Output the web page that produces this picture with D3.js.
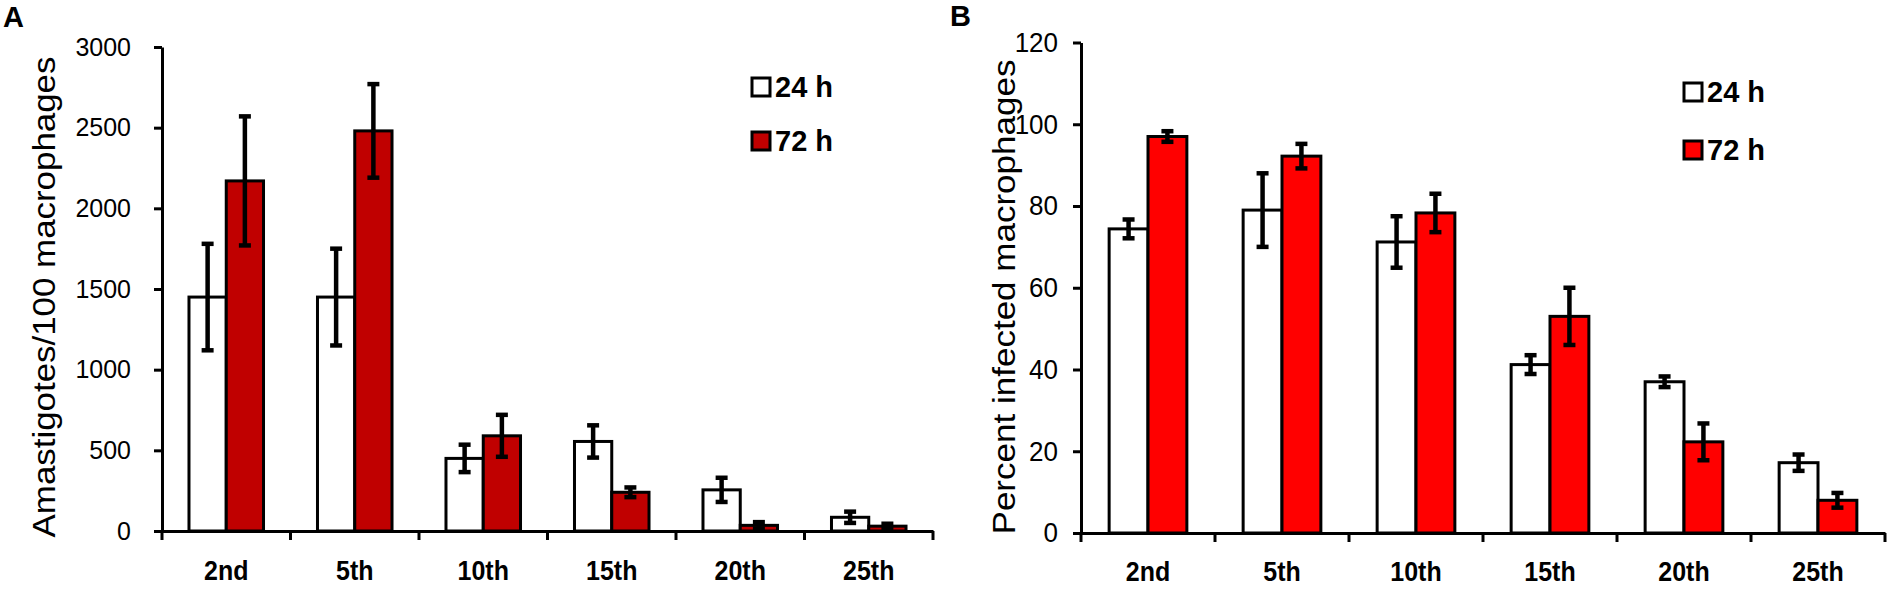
<!DOCTYPE html>
<html><head><meta charset="utf-8">
<script src="https://cdn.jsdelivr.net/npm/d3@7/dist/d3.min.js"></script>
<style>
body{margin:0;background:#fff}
svg{display:block}
text{font-family:"Liberation Sans",Arial,Helvetica,sans-serif;fill:#000}
</style>
</head><body>
<svg id="chart" width="1900" height="590"></svg>
<script>
// ---------- data ----------
const categories = ["2nd", "5th", "10th", "15th", "20th", "25th"];
const seriesNames = ["24 h", "72 h"];

// Panel A: Amastigotes/100 macrophages
const amast24    = [1450, 1450, 450, 555, 255, 85];
const amast24Err = [330, 300, 85, 100, 75, 35];
const amast72    = [2170, 2480, 590, 240, 35, 30];
const amast72Err = [400, 290, 130, 30, 20, 15];
const ticksA = [0, 500, 1000, 1500, 2000, 2500, 3000];

// Panel B: Percent infected macrophages
const pct24    = [74.4, 79, 71.2, 41.2, 37, 17.2];
const pct24Err = [2.3, 9, 6.3, 2.3, 1.3, 2];
const pct72    = [97, 92.2, 78.3, 53, 22.3, 8];
const pct72Err = [1.3, 3, 4.7, 7, 4.5, 1.8];
const ticksB = [0, 20, 40, 60, 80, 100, 120];

// ---------- drawing ----------
const svg = d3.select("#chart");
svg.append("rect").attr("width", 1900).attr("height", 590).attr("fill", "#fff");

function drawPanel(p) {
  const g = svg.append("g");
  const x = d3.scaleBand().domain(categories).range([p.left, p.right]);
  const inner = d3.scaleBand().domain(seriesNames)
    .range([x.bandwidth() * 0.21, x.bandwidth() * 0.79]);
  const y = d3.scaleLinear().domain([0, d3.max(p.ticks)]).range([p.bottom, p.top]);

  const series = [
    {name: seriesNames[0], vals: p.v24, errs: p.e24, fill: "#ffffff"},
    {name: seriesNames[1], vals: p.v72, errs: p.e72, fill: p.red}
  ];

  const groups = g.selectAll("g.cat").data(categories).join("g")
    .attr("class", "cat")
    .attr("transform", c => `translate(${x(c)},0)`);

  const items = (c, i) => series.map(s => ({s, v: s.vals[i], e: s.errs[i]}));

  groups.selectAll("rect.bar").data(items).join("rect")
    .attr("class", "bar")
    .attr("x", d => inner(d.s.name))
    .attr("width", inner.bandwidth())
    .attr("y", d => y(d.v))
    .attr("height", d => y(0) - y(d.v))
    .attr("fill", d => d.s.fill)
    .attr("stroke", "#000")
    .attr("stroke-width", 3);

  const cx = d => inner(d.s.name) + inner.bandwidth() / 2;
  groups.selectAll("line.err").data(items).join("line")
    .attr("class", "err")
    .attr("x1", cx).attr("x2", cx)
    .attr("y1", d => y(Math.max(0, d.v - d.e)))
    .attr("y2", d => y(d.v + d.e))
    .attr("stroke", "#000").attr("stroke-width", 4.5);
  ["hi", "lo"].forEach(k => {
    groups.selectAll("line.cap" + k).data(items).join("line")
      .attr("class", "cap" + k)
      .attr("x1", d => cx(d) - 6).attr("x2", d => cx(d) + 6)
      .attr("y1", d => y(k === "hi" ? d.v + d.e : Math.max(0, d.v - d.e)))
      .attr("y2", d => y(k === "hi" ? d.v + d.e : Math.max(0, d.v - d.e)))
      .attr("stroke", "#000").attr("stroke-width", 4.5);
  });

  // y axis
  const yAxis = d3.axisLeft(y).tickValues(p.ticks).tickFormat(d3.format("d"))
    .tickSize(8).tickPadding(p.tickPad).tickSizeOuter(0);
  const ya = g.append("g").attr("transform", `translate(${p.left},0)`).call(yAxis);
  ya.select(".domain").attr("stroke", "#000").attr("stroke-width", 3);
  ya.selectAll(".tick line").attr("stroke", "#000").attr("stroke-width", 3);
  ya.selectAll(".tick text")
    .attr("font-size", p.tickFont)
    .attr("font-family", null)
    .attr("transform", `scale(1,${p.tickSy})`);

  // x axis
  const xAxis = d3.axisBottom(x).tickSize(0).tickSizeOuter(0);
  const xa = g.append("g").attr("transform", `translate(0,${p.bottom})`).call(xAxis);
  xa.select(".domain").attr("stroke", "#000").attr("stroke-width", 3);
  xa.selectAll(".tick text")
    .attr("font-size", p.xFont)
    .attr("font-weight", "bold")
    .attr("font-family", null)
    .attr("y", p.xLabelTop / p.xSy)
    .attr("dy", "0.71em")
    .attr("transform", `scale(1,${p.xSy})`);
  // boundary ticks
  const bounds = categories.map(c => x(c)).concat([x.range()[1]]);
  xa.selectAll("line.bt").data(bounds).join("line")
    .attr("class", "bt")
    .attr("x1", d => d).attr("x2", d => d)
    .attr("y1", 0).attr("y2", 9)
    .attr("stroke", "#000").attr("stroke-width", 3);

  // y title
  g.append("text")
    .attr("transform", `translate(${p.titleX},${p.titleY}) rotate(-90) scale(${p.titleSx},1)`)
    .attr("text-anchor", "middle")
    .attr("font-size", p.titleFont)
    .text(p.title);

  // panel letter
  g.append("text").attr("x", p.letterX).attr("y", p.letterY)
    .attr("font-size", 29).attr("font-weight", "bold").text(p.letter);

  // legend
  const lg = g.append("g").attr("transform", `translate(${p.legendX},${p.legendY})`);
  const li = lg.selectAll("g").data(series).join("g")
    .attr("transform", (d, i) => `translate(0,${i * p.legendGap})`);
  li.append("rect").attr("x", 0).attr("y", 0).attr("width", 18).attr("height", 18)
    .attr("fill", d => d.fill).attr("stroke", "#000").attr("stroke-width", 3);
  li.append("text").attr("x", 23).attr("y", 19)
    .attr("font-size", 29).attr("font-weight", "bold").text(d => d.name);
}

drawPanel({
  left: 162, right: 933, top: 47, bottom: 531,
  ticks: ticksA, v24: amast24, e24: amast24Err, v72: amast72, e72: amast72Err,
  red: "#C00000", tickPad: 23, tickFont: 25, tickSy: 1.04,
  xFont: 25, xSy: 1.1, xLabelTop: 29,
  title: "Amastigotes/100 macrophages", titleX: 55, titleY: 297, titleFont: 32, titleSx: 1.09,
  letter: "A", letterX: 3, letterY: 27,
  legendX: 752, legendY: 78, legendGap: 54
});

drawPanel({
  left: 1081, right: 1885, top: 42.5, bottom: 533,
  ticks: ticksB, v24: pct24, e24: pct24Err, v72: pct72, e72: pct72Err,
  red: "#FF0000", tickPad: 15, tickFont: 26, tickSy: 1.06,
  xFont: 25, xSy: 1.1, xLabelTop: 28,
  title: "Percent infected macrophages", titleX: 1015, titleY: 297, titleFont: 31, titleSx: 1.13,
  letter: "B", letterX: 950, letterY: 26,
  legendX: 1684, legendY: 83, legendGap: 58
});
</script>
</body></html>
